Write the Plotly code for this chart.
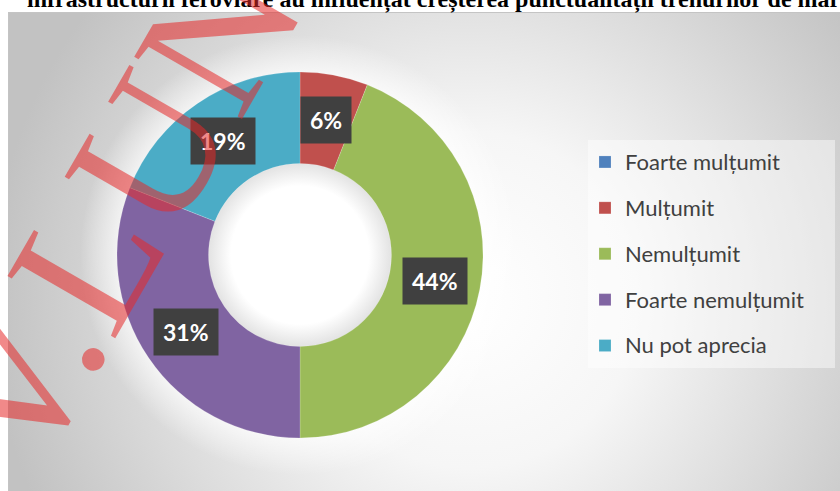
import math
import urllib.parse
import plotly.graph_objects as go

# ---- data ----
labels = ["Foarte mulțumit", "Mulțumit", "Nemulțumit", "Foarte nemulțumit", "Nu pot aprecia"]
values = [0, 6, 44, 31, 19]
colors = ["#4F81BD", "#C0504D", "#9BBB59", "#8064A2", "#4BACC6"]
title_text = "infrastructurii feroviare au influențat creșterea punctualității trenurilor de marfă"
watermark = "V.LUNGU"

W, H = 840, 491
# pie geometry (pixels)
CX, CY, R = 300, 255, 183
HOLE = 0.5

bg_svg = (
    "<svg xmlns='http://www.w3.org/2000/svg' width='840' height='491' viewBox='0 0 840 491' preserveAspectRatio='none'>"
    "<defs>"
    "<radialGradient id='g' gradientUnits='userSpaceOnUse' cx='470' cy='300' r='480'>"
    "<stop offset='0' stop-color='#ffffff'/>"
    "<stop offset='0.35' stop-color='#f6f6f6'/>"
    "<stop offset='1' stop-color='#c2c2c2'/>"
    "</radialGradient>"
    "<radialGradient id='glow' gradientUnits='userSpaceOnUse' cx='300' cy='255' r='220'>"
    "<stop offset='0.8' stop-color='#ffffff' stop-opacity='0.8'/>"
    "<stop offset='1' stop-color='#ffffff' stop-opacity='0'/>"
    "</radialGradient>"
    "<radialGradient id='inner' gradientUnits='userSpaceOnUse' cx='300' cy='255' r='92'>"
    "<stop offset='0.75' stop-color='#ffffff' stop-opacity='1'/>"
    "<stop offset='1' stop-color='#e2e2e2' stop-opacity='1'/>"
    "</radialGradient>"
    "</defs>"
    "<rect x='8.5' y='12.5' width='840' height='490' fill='url(#g)' stroke='#c4c4c4' stroke-width='1'/>"
    "<circle cx='300' cy='255' r='220' fill='url(#glow)'/>"
    "<circle cx='300' cy='255' r='92' fill='url(#inner)'/>"
    "</svg>"
)
bg_uri = "data:image/svg+xml;charset=utf-8," + urllib.parse.quote(bg_svg)

legend_labels = [f"<span style='font-size:22px;baseline-shift:5px'>{l}</span>" for l in labels]

fig = go.Figure()
fig.add_trace(go.Pie(
    labels=legend_labels,
    values=values,
    hole=HOLE,
    sort=False,
    direction="clockwise",
    rotation=0,
    marker=dict(colors=colors, line=dict(color="rgba(255,255,255,0.35)", width=0.5)),
    textinfo="none",
    hoverinfo="label+percent",
    domain=dict(x=[(CX - R) / W, (CX + R) / W], y=[1 - (CY + R) / H, 1 - (CY - R) / H]),
    showlegend=True,
))

annotations = []
# data labels in dark boxes, positioned from the cumulative values
total = sum(values)
cum = 0
r_mid = R * (1 + HOLE) / 2
for lab, v in zip(labels, values):
    if v > 0:
        th = 2 * math.pi * (cum + v / 2) / total
        px = CX + r_mid * math.sin(th)
        py = CY - r_mid * math.cos(th)
        annotations.append(dict(
            x=px / W, y=1 - py / H, xref="paper", yref="paper",
            text=f"<b>{round(100 * v / total)}%</b>", showarrow=False,
            font=dict(family="Lato", size=23, color="white"),
            bgcolor="#404040", borderpad=9, xanchor="center", yanchor="middle",
        ))
    cum += v

annotations.append(dict(
    x=25 / W, y=1 + 1 / H, xref="paper", yref="paper", xanchor="left", yanchor="middle",
    text=f"<b>{title_text}</b>", showarrow=False,
    font=dict(family="Liberation Serif", size=24, color="black"),
))

annotations.append(dict(
    x=183 / W, y=1 - 93 / H, xref="paper", yref="paper", xanchor="center", yanchor="middle",
    text=watermark, showarrow=False, textangle=-60,
    font=dict(family="Liberation Serif", size=190, color="rgba(230,40,40,0.55)"),
))

fig.update_layout(
    width=W, height=H,
    margin=dict(l=0, r=0, t=0, b=0),
    paper_bgcolor="white",
    plot_bgcolor="white",
    images=[dict(source=bg_uri, xref="paper", yref="paper", x=0, y=1, sizex=1, sizey=1,
                 sizing="stretch", xanchor="left", yanchor="top", layer="below")],
    shapes=[dict(type="rect", xref="paper", yref="paper",
                 x0=588 / W, x1=835 / W, y0=1 - 368 / H, y1=1 - 140 / H,
                 fillcolor="rgba(255,255,255,0.45)", line=dict(width=0), layer="below")],
    legend=dict(
        x=585 / W, y=1 - 134 / H, xanchor="left", yanchor="top",
        font=dict(family="Lato", size=33, color="#404040"),
        bgcolor="rgba(0,0,0,0)", traceorder="normal",
    ),
    annotations=annotations,
)

fig.write_html("out.html", config={"displayModeBar": False},
               post_script="document.body.style.margin='0';")
